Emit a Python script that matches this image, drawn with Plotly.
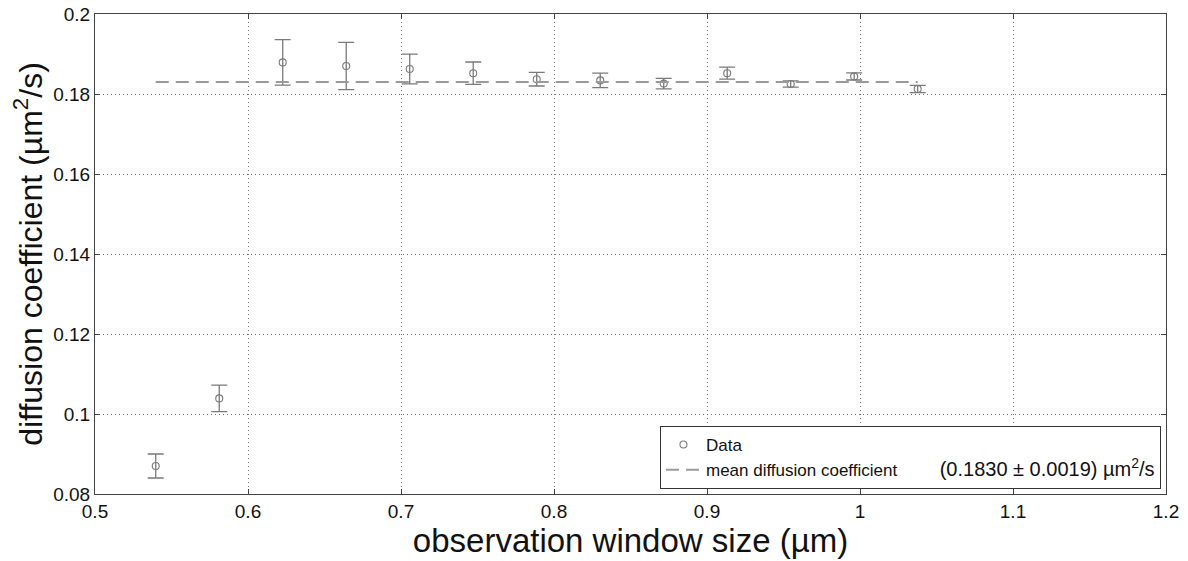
import plotly.graph_objects as go

# ---- data ----
window_size = [0.5397, 0.5812, 0.6227, 0.6642, 0.7057, 0.7472, 0.7887,
               0.8302, 0.8717, 0.9132, 0.9547, 0.9962, 1.0377]
diff_coeff = [0.0870, 0.1039, 0.1879, 0.1870, 0.18625, 0.1852, 0.1837,
              0.1834, 0.1826, 0.1852, 0.1825, 0.1844, 0.18125]
diff_err = [0.0030, 0.0033, 0.0057, 0.0059, 0.0037, 0.0028, 0.0017,
            0.0018, 0.0013, 0.0015, 0.0008, 0.0009, 0.0009]
mean_coeff = 0.1830
mean_err = 0.0019
mean_x = [window_size[0], window_size[-1]]
mean_y = [mean_coeff, mean_coeff]

x_ticks = [0.5, 0.6, 0.7, 0.8, 0.9, 1.0, 1.1, 1.2]
x_ticktext = ["0.5", "0.6", "0.7", "0.8", "0.9", "1", "1.1", "1.2"]
y_ticks = [0.08, 0.10, 0.12, 0.14, 0.16, 0.18, 0.20]
y_ticktext = ["0.08", "0.1", "0.12", "0.14", "0.16", "0.18", "0.2"]

FONT = "Liberation Sans, Arial, sans-serif"
GREY = "#7a7a7a"

fig = go.Figure()

fig.add_trace(go.Scatter(
    x=window_size, y=diff_coeff, mode="markers", name="Data",
    marker=dict(symbol="circle-open", size=7, color=GREY, line=dict(width=1.1, color=GREY)),
    error_y=dict(type="data", array=diff_err, visible=True, color=GREY, thickness=1.3, width=8),
))

mean_label = ("<span style='font-size:17px'>mean diffusion coefficient</span>"
              + "&nbsp;" * 9
              + f"<span style='font-size:20px'>({mean_coeff:.4f} ± {mean_err:.4f}) µm<sup>2</sup>/s</span>")
fig.add_trace(go.Scatter(
    x=mean_x, y=mean_y, mode="lines", name=mean_label,
    line=dict(color="#9a9a9a", width=2, dash="13px,7px"),
))

axis_common = dict(
    showline=True, linecolor="#444444", linewidth=1, mirror="ticks",
    ticks="inside", ticklen=5, tickcolor="#444444",
    showgrid=True, gridcolor="#707070", gridwidth=1, griddash="1px,3px",
    zeroline=False,
    tickfont=dict(family=FONT, size=19, color="#111111"),
)

fig.update_xaxes(
    range=[0.5, 1.2], tickvals=x_ticks, ticktext=x_ticktext,
    title=dict(text="observation window size (µm)", font=dict(family=FONT, size=33, color="#111111"), standoff=7),
    **axis_common,
)
fig.update_yaxes(
    range=[0.08, 0.2], tickvals=y_ticks, ticktext=y_ticktext,
    title=dict(text="diffusion coefficient (µm<sup>2</sup>/s)", font=dict(family=FONT, size=32, color="#111111"), standoff=1),
    **axis_common,
)

fig.update_layout(
    width=1188, height=561,
    margin=dict(l=95, r=22, t=14, b=67, autoexpand=False),
    paper_bgcolor="white", plot_bgcolor="white",
    font=dict(family=FONT, color="#111111"),
    showlegend=True,
    legend=dict(
        x=0.9953, y=0.0104, xanchor="right", yanchor="bottom",
        bgcolor="white", bordercolor="#333333", borderwidth=1,
        font=dict(family=FONT, size=17, color="#111111"),
        itemwidth=35, tracegroupgap=0,
    ),
)

fig.write_html("out.html",
               config={"displayModeBar": False},
               post_script="document.body.style.margin='0';document.body.style.overflow='hidden';")
